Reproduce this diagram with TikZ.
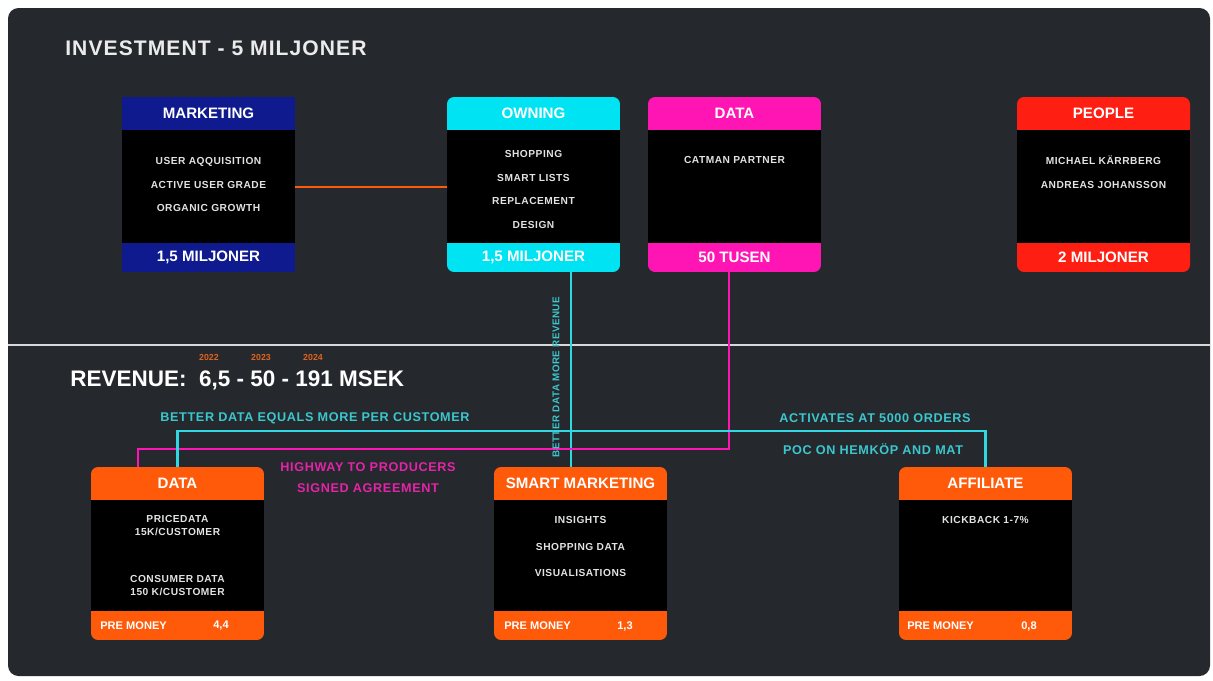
\documentclass[tikz,border=0pt]{standalone}
\usepackage{fontspec}
\setmainfont{Liberation Sans}
\newfontfamily\spacedfont[LetterSpace=5]{Liberation Sans}
\usetikzlibrary{positioning}
\definecolor{panel-dark}{HTML}{25282C}
\definecolor{navy-blue}{HTML}{0E1A8E}
\definecolor{own-cyan}{HTML}{00E3F2}
\definecolor{data-magenta}{HTML}{FF14B4}
\definecolor{people-red}{HTML}{FF1E12}
\definecolor{rev-orange}{HTML}{FF5A0A}
\definecolor{line-cyan}{HTML}{30D8E2}
\definecolor{label-cyan}{HTML}{3CC6CE}
\definecolor{label-magenta}{HTML}{E424A8}
\definecolor{year-orange}{HTML}{E0641E}
\definecolor{body-grey}{HTML}{E2E2E2}

\begin{document}
\begin{tikzpicture}[x=0.02cm, y=-0.02cm,
    card/.style={rectangle, rounded corners=4pt, minimum width=3.46cm, minimum height=3.5cm, inner sep=0pt},
    cardbody/.style={rectangle, fill=black, minimum width=3.46cm, minimum height=2.26cm, inner sep=0pt},
    cardhead/.style={text=white, font=\bfseries\fontsize{8.6}{10}\selectfont},
    cardlines/.style={text=body-grey, align=center, font=\spacedfont\bfseries\fontsize{5.8}{13.5}\selectfont},
    premoney/.style={text=white, inner sep=0pt, font=\bfseries\fontsize{6.3}{7}\selectfont},
    link/.style={line width=1.3pt},
    linklabel/.style={font=\spacedfont\bfseries\fontsize{7.2}{8}\selectfont}]
    % panel
    \useasboundingbox (0, 0) rectangle (1213, 680);
    \fill[white] (0, 0) rectangle (1213, 680);
    \fill[panel-dark, rounded corners=6pt] (8, 8) rectangle (1210, 676);
    \draw[white!85!black, line width=1.5pt] (8, 345) -- (1210, 345);

    \node[anchor=west, inner sep=0pt, text=white!92!black, font=\spacedfont\bfseries\fontsize{12}{14}\selectfont] (title) at (65, 48) {INVESTMENT - 5 MILJONER};
    \node[anchor=west, inner sep=0pt, text=white, font=\bfseries\fontsize{12.8}{15}\selectfont] (revenue) at (70, 380) {REVENUE:\ \ 6,5 - 50 - 191 MSEK};
    \node[text=year-orange, font=\bfseries\fontsize{5}{6}\selectfont] (y2022) at (209, 357) {2022};
    \node[text=year-orange, font=\bfseries\fontsize{5}{6}\selectfont] (y2023) at (261, 357) {2023};
    \node[text=year-orange, font=\bfseries\fontsize{5}{6}\selectfont] (y2024) at (313, 357) {2024};

    % investment cards
    \node[card, sharp corners, fill=navy-blue] (mkt) at (208.5, 184.5) {};
    \node[cardbody] (mkt-body) at (208.5, 186.5) {};
    \node[cardhead] (mkt-head) at (208.5, 113.5) {MARKETING};
    \node[cardlines] (mkt-text) at (208.5, 184.5) {USER AQQUISITION\\ACTIVE USER GRADE\\ORGANIC GROWTH};
    \node[cardhead] (mkt-foot) at (208.5, 257.5) {1,5 MILJONER};

    \node[card, fill=own-cyan] (own) at (533.5, 184.5) {};
    \node[cardbody] (own-body) at (533.5, 186.5) {};
    \node[cardhead] (own-head) at (533.5, 113.5) {OWNING};
    \node[cardlines] (own-text) at (533.5, 189.5) {SHOPPING\\SMART LISTS\\REPLACEMENT\\DESIGN};
    \node[cardhead] (own-foot) at (533.5, 257.5) {1,5 MILJONER};

    \node[card, fill=data-magenta] (catman) at (734.5, 184.5) {};
    \node[cardbody] (catman-body) at (734.5, 186.5) {};
    \node[cardhead] (catman-head) at (734.5, 113.5) {DATA};
    \node[cardlines] (catman-text) at (734.5, 160) {CATMAN PARTNER};
    \node[cardhead] (catman-foot) at (734.5, 257.5) {50 TUSEN};

    \node[card, fill=people-red] (people) at (1103.5, 184.5) {};
    \node[cardbody] (people-body) at (1103.5, 186.5) {};
    \node[cardhead] (people-head) at (1103.5, 113.5) {PEOPLE};
    \node[cardlines] (people-text) at (1103.5, 172) {MICHAEL KÄRRBERG\\ANDREAS JOHANSSON};
    \node[cardhead] (people-foot) at (1103.5, 257.5) {2 MILJONER};

    % revenue cards
    \node[card, minimum height=3.46cm, fill=rev-orange] (data) at (177.5, 553.5) {};
    \node[cardbody, minimum height=2.22cm] (data-body) at (177.5, 555.5) {};
    \node[cardhead] (data-head) at (177.5, 483.5) {DATA};
    \node[cardlines, font=\spacedfont\bfseries\fontsize{5.8}{7.4}\selectfont] (data-text) at (177.5, 555.5) {PRICEDATA\\15K/CUSTOMER\\[19pt]CONSUMER DATA\\150 K/CUSTOMER};
    \node[premoney, anchor=west] (data-pre) at (100, 626) {PRE MONEY};
    \node[premoney] (data-val) at (221, 626) {4,4};

    \node[card, minimum height=3.46cm, fill=rev-orange] (smart) at (580.5, 553.5) {};
    \node[cardbody, minimum height=2.22cm] (smart-body) at (580.5, 555.5) {};
    \node[cardhead] (smart-head) at (580.5, 483.5) {SMART MARKETING};
    \node[cardlines, font=\spacedfont\bfseries\fontsize{5.8}{15}\selectfont] (smart-text) at (580.5, 546.5) {INSIGHTS\\SHOPPING DATA\\VISUALISATIONS};
    \node[premoney, anchor=west] (smart-pre) at (504, 626) {PRE MONEY};
    \node[premoney] (smart-val) at (625, 626) {1,3};

    \node[card, minimum height=3.46cm, fill=rev-orange] (affil) at (985.5, 553.5) {};
    \node[cardbody, minimum height=2.22cm] (affil-body) at (985.5, 555.5) {};
    \node[cardhead] (affil-head) at (985.5, 483.5) {AFFILIATE};
    \node[cardlines] (affil-text) at (985.5, 520) {KICKBACK 1-7\%};
    \node[premoney, anchor=west] (affil-pre) at (907, 626) {PRE MONEY};
    \node[premoney] (affil-val) at (1029, 626) {0,8};

    % connectors
    \draw[link, rev-orange] ([yshift=-0.05cm]mkt.east) -- ([yshift=-0.05cm]mkt.east -| own.west);
    \draw[link, line-cyan] ([xshift=0.75cm]own.south) -- ([xshift=0.75cm]own.south |- smart.north);
    \draw[link, data-magenta] ([xshift=-0.11cm]catman.south) |- ([xshift=-0.79cm, yshift=0.36cm]data.north) -- ([xshift=-0.79cm]data.north);
    \draw[link, line-cyan] (data.north) |- ([yshift=0.72cm]affil.north) -- (affil.north);

    \node[linklabel, text=label-cyan] (better) at (315, 418) {BETTER DATA EQUALS MORE PER CUSTOMER};
    \node[linklabel, text=label-cyan] (activates) at (875, 418) {ACTIVATES AT 5000 ORDERS};
    \node[linklabel, text=label-cyan] (poc) at (873, 449) {POC ON HEMKÖP AND MAT};
    \node[linklabel, text=label-magenta] (highway) at (368, 467) {HIGHWAY TO PRODUCERS};
    \node[linklabel, text=label-magenta] (signed) at (368, 488) {SIGNED AGREEMENT};
    \node[linklabel, text=label-cyan, rotate=90, font=\spacedfont\bfseries\fontsize{5.6}{7}\selectfont] (more-rev) at (556, 377) {BETTER DATA MORE REVENUE};
\end{tikzpicture}
\end{document}
